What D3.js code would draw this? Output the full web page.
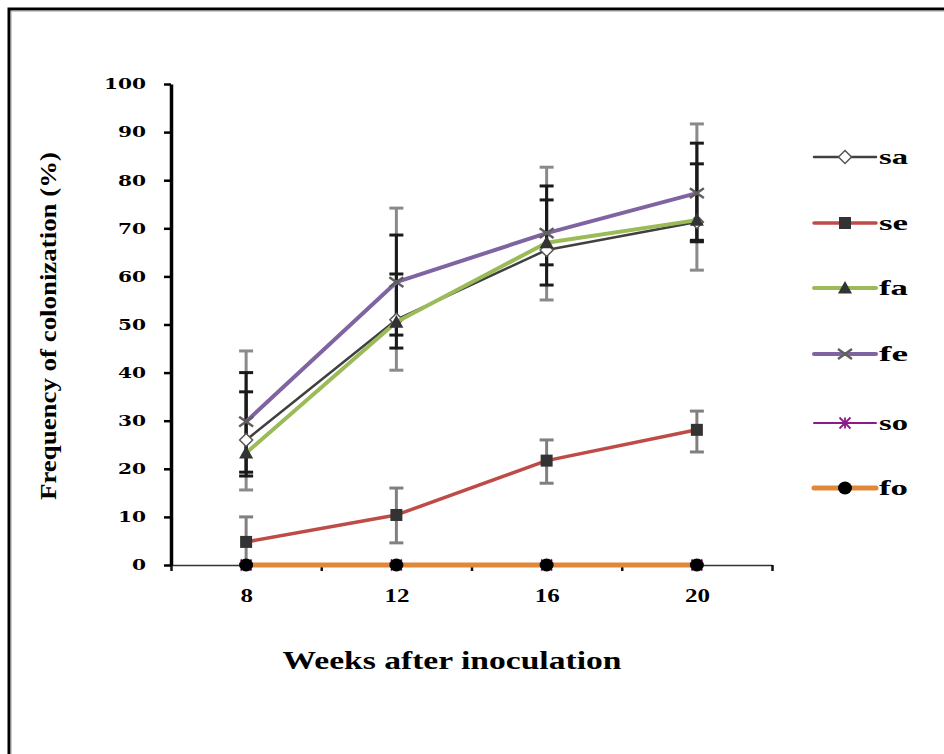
<!DOCTYPE html>
<html>
<head>
<meta charset="utf-8">
<script src="https://cdn.jsdelivr.net/npm/d3@7"></script>
<style>
  body { margin: 0; background: #fff; }
  svg { display: block; }
</style>
</head>
<body>
<svg id="chart"></svg>
<script>
var weeks = [8, 12, 16, 20];
var yTicks = [0, 10, 20, 30, 40, 50, 60, 70, 80, 90, 100];
var seriesNames = ["sa", "se", "fa", "fe", "so", "fo"];

var sa = [26, 51, 65.5, 71.3];
var se = [4.8, 10.4, 21.7, 28.1];
var fa = [23.3, 50.5, 67, 71.7];
var fe = [29.8, 58.8, 69, 77.3];
var so = [0, 0, 0, 0];
var fo = [0, 0, 0, 0];

// error bar ends (low / high)
var saLow = [19.3, 45.1, 58.2, 67.5], saHigh = [40, 68.6, 78.8, 83.4];
var seLow = [0, 4.6, 17, 23.5], seHigh = [10, 16, 26, 32];
var faLow = [18.5, 47.8, 62.4, 67.2], faHigh = [36, 60.5, 75.9, 87.7];
var feLow = [15.6, 40.5, 55.1, 61.3], feHigh = [44.5, 74.2, 82.7, 91.7];

var xLabel = "Weeks after inoculation";
var yLabel = "Frequency of colonization (%)";

var series = [
  {name: "sa", values: sa, low: saLow, high: saHigh, color: "#404040", width: 2.5, marker: "diamond", barColor: "#1a1a1a"},
  {name: "se", values: se, low: seLow, high: seHigh, color: "#be4b48", width: 3.5, marker: "square", barColor: "#808080"},
  {name: "fa", values: fa, low: faLow, high: faHigh, color: "#9bbb59", width: 4, marker: "triangle", barColor: "#1a1a1a"},
  {name: "fe", values: fe, low: feLow, high: feHigh, color: "#8064a2", width: 4, marker: "cross", barColor: "#8a8a8a"},
  {name: "so", values: so, low: null, high: null, color: "#8b1a8b", width: 2, marker: "star", barColor: null},
  {name: "fo", values: fo, low: null, high: null, color: "#e0883a", width: 5, marker: "circle", barColor: null}
];

var svgWidth = 944, svgHeight = 754;
var svg = d3.select("#chart")
  .attr("width", svgWidth)
  .attr("height", svgHeight);

// frame
svg.append("path")
  .attr("d", "M9,760 L9,9 L950,9")
  .attr("fill", "none")
  .attr("stroke", "#000")
  .attr("stroke-width", 3);
svg.append("path")
  .attr("d", "M11,760 L11,11 L950,11")
  .attr("fill", "none")
  .attr("stroke", "#999")
  .attr("stroke-width", 1);

var x = d3.scaleLinear().domain([6, 22]).range([171, 772]);
var y = d3.scaleLinear().domain([0, 100]).range([565, 84]);

// x axis: ticks between categories, labels under categories
var xAxis = svg.append("g")
  .attr("transform", "translate(0," + y(0) + ")")
  .call(d3.axisBottom(x).tickValues([6, 10, 14, 18, 22]).tickFormat("").tickSize(6).tickSizeOuter(0));
xAxis.select(".domain").attr("stroke", "#333").attr("stroke-width", 1.5);
xAxis.selectAll(".tick line").attr("stroke", "#111").attr("stroke-width", 2.5);

var xLabels = svg.append("g")
  .attr("transform", "translate(0," + y(0) + ")")
  .call(d3.axisBottom(x).tickValues(weeks).tickSize(0).tickPadding(24));
xLabels.select(".domain").remove();
xLabels.selectAll("text")
  .attr("font-family", "'Liberation Serif', serif")
  .attr("font-weight", "bold")
  .attr("font-size", 19)
  .attr("fill", "#000")
  .attr("textLength", function (d) { return String(d).length * 12.5; })
  .attr("lengthAdjust", "spacingAndGlyphs");

// y axis
var yAxis = svg.append("g")
  .attr("transform", "translate(" + x(6) + ",0)")
  .call(d3.axisLeft(y).tickValues(yTicks).tickSize(7).tickSizeOuter(0).tickPadding(18));
yAxis.select(".domain").attr("stroke", "#000").attr("stroke-width", 3.5);
yAxis.selectAll(".tick line").attr("stroke", "#000").attr("stroke-width", 2.5);
yAxis.selectAll("text")
  .attr("font-family", "'DejaVu Serif', serif")
  .attr("font-weight", "bold")
  .attr("font-size", 15)
  .attr("fill", "#000")
  .attr("textLength", function (d) { return String(d).length * 14; })
  .attr("lengthAdjust", "spacingAndGlyphs");

// axis titles
svg.append("text")
  .attr("x", 452)
  .attr("y", 669)
  .attr("text-anchor", "middle")
  .attr("font-family", "'Liberation Serif', serif")
  .attr("font-weight", "bold")
  .attr("font-size", 25)
  .attr("textLength", 339)
  .attr("lengthAdjust", "spacingAndGlyphs")
  .text(xLabel);

svg.append("text")
  .attr("transform", "translate(56,326) rotate(-90)")
  .attr("text-anchor", "middle")
  .attr("font-family", "'Liberation Serif', serif")
  .attr("font-weight", "bold")
  .attr("font-size", 24)
  .attr("textLength", 348)
  .attr("lengthAdjust", "spacingAndGlyphs")
  .text(yLabel);

function drawMarker(g, s, cx, cy, k) {
  k = k || 1;
  if (s.marker === "diamond") {
    var r = 6.5 * k;
    g.append("path")
      .attr("d", "M" + cx + "," + (cy - r) + " L" + (cx + r) + "," + cy + " L" + cx + "," + (cy + r) + " L" + (cx - r) + "," + cy + " Z")
      .attr("fill", "#fff").attr("stroke", "#555").attr("stroke-width", 1.5);
  } else if (s.marker === "square") {
    var h = 6 * k;
    g.append("rect")
      .attr("x", cx - h).attr("y", cy - h).attr("width", 2 * h).attr("height", 2 * h)
      .attr("fill", "#333");
  } else if (s.marker === "triangle") {
    var t = 7 * k;
    g.append("path")
      .attr("d", "M" + cx + "," + (cy - t) + " L" + (cx + t) + "," + (cy + t * 0.8) + " L" + (cx - t) + "," + (cy + t * 0.8) + " Z")
      .attr("fill", "#333");
  } else if (s.marker === "cross") {
    var c = 7 * k;
    g.append("path")
      .attr("d", "M" + (cx - c) + "," + (cy - c * 0.7) + " L" + (cx + c) + "," + (cy + c * 0.7) + " M" + (cx + c) + "," + (cy - c * 0.7) + " L" + (cx - c) + "," + (cy + c * 0.7))
      .attr("stroke", "#5f5f5f").attr("stroke-width", 2.5).attr("fill", "none");
  } else if (s.marker === "star") {
    var a = 5.5 * k;
    g.append("path")
      .attr("d", "M" + (cx - a) + "," + (cy - a) + " L" + (cx + a) + "," + (cy + a) + " M" + (cx + a) + "," + (cy - a) + " L" + (cx - a) + "," + (cy + a) + " M" + cx + "," + (cy - a) + " L" + cx + "," + (cy + a))
      .attr("stroke", s.color).attr("stroke-width", 1.8).attr("fill", "none");
  } else if (s.marker === "circle") {
    g.append("ellipse")
      .attr("cx", cx).attr("cy", cy).attr("rx", 7 * k).attr("ry", 6.5 * k)
      .attr("fill", "#000");
  }
}

var line = d3.line()
  .x(function (d, i) { return x(weeks[i]); })
  .y(function (d) { return y(d); });

var plot = svg.append("g");

// error bars, fe first so the others sit on top
["fe", "sa", "fa", "se"].forEach(function (name) {
  var s = series.find(function (d) { return d.name === name; });
  var eb = plot.append("g").attr("stroke", s.barColor).attr("stroke-width", 3);
  weeks.forEach(function (w, i) {
    var cx = x(w);
    eb.append("line").attr("x1", cx).attr("x2", cx).attr("y1", y(s.low[i])).attr("y2", y(s.high[i]));
    eb.append("line").attr("x1", cx - 7).attr("x2", cx + 7).attr("y1", y(s.low[i])).attr("y2", y(s.low[i]));
    eb.append("line").attr("x1", cx - 7).attr("x2", cx + 7).attr("y1", y(s.high[i])).attr("y2", y(s.high[i]));
  });
});

series.forEach(function (s) {
  var g = plot.append("g");
  g.append("path")
    .datum(s.values)
    .attr("fill", "none")
    .attr("stroke", s.color)
    .attr("stroke-width", s.width)
    .attr("stroke-linejoin", "round")
    .attr("d", line);
  s.values.forEach(function (v, i) {
    drawMarker(g, s, x(weeks[i]), y(v));
  });
});

// legend
var legendY = [157, 223, 288, 354, 423, 488];
var legend = svg.append("g");
series.forEach(function (s, i) {
  var ly = legendY[i];
  var g = legend.append("g");
  g.append("line")
    .attr("x1", 814).attr("x2", 876)
    .attr("y1", ly).attr("y2", ly)
    .attr("stroke", s.color)
    .attr("stroke-width", s.width)
    .attr("stroke-linecap", "round");
  drawMarker(g, s, 845, ly, 1);
  g.append("text")
    .attr("x", 879)
    .attr("y", ly + 7)
    .attr("font-family", "'Liberation Serif', serif")
    .attr("font-weight", "bold")
    .attr("font-size", 21)
    .attr("textLength", 29)
    .attr("lengthAdjust", "spacingAndGlyphs")
    .text(s.name);
});
</script>
</body>
</html>
